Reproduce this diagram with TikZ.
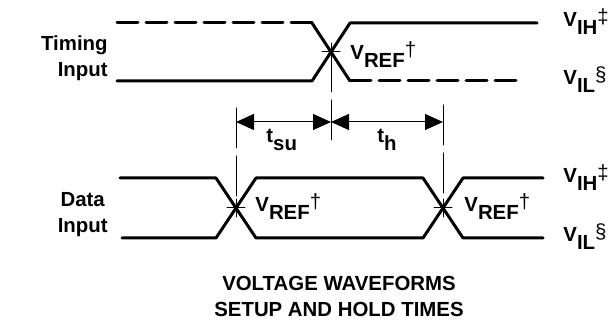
\documentclass[tikz,border=0pt]{standalone}
\usepackage{fontspec}
\setmainfont{Liberation Sans}
\usetikzlibrary{arrows.meta}
\newcommand{\sigl}[3]{#1\raisebox{-4pt}{#2}\raisebox{1.5pt}{\normalfont #3}}
\tikzset{
    wave/.style={line width=1.5pt},
    wavedash/.style={line width=1.5pt, dash pattern=on 10.5pt off 4pt},
    guide/.style={line width=0.5pt, dash pattern=on 20pt off 4pt},
    lbl/.style={anchor=base west, inner sep=0pt}
}
\begin{document}
\begin{tikzpicture}[x=0.5pt, y=-0.5pt, font=\bfseries\fontsize{10.2}{13}\selectfont, line join=round, line cap=round, >={Triangle[length=9pt,width=8pt]}]
    \useasboundingbox (0,0) rectangle (611,320);
    \path
    % timing input
    (117,23) coordinate (A)
    ++ (195,0) coordinate (B)
    ++ (38,58) coordinate (C)
    ++ (170,0) coordinate (D)
    (117,81) coordinate (E)
    ++ (195,0) coordinate (F)
    ++ (38,-58) coordinate (G)
    ++ (187,0) coordinate (H)
    (331,52) coordinate (X)
    (331,145) coordinate (X')
    % data input
    (120,178) coordinate (P)
    (216,178) coordinate (Q)
    (256,238) coordinate (R)
    (423,238) coordinate (S)
    (463,178) coordinate (U)
    (543,178) coordinate (V)
    (122,238) coordinate (P')
    (216,238) coordinate (Q')
    (256,178) coordinate (R')
    (423,178) coordinate (S')
    (463,238) coordinate (U')
    (543,238) coordinate (V')
    (236,208) coordinate (Y)
    (443,208) coordinate (Z)
    (236,108) coordinate (Y')
    (443,105) coordinate (Z')
    % arrow row
    (236,122) coordinate (M1)
    (331,122) coordinate (M2)
    (443,122) coordinate (M3)
    ;
    \draw[wavedash] (A)--(B);
    \draw[wave] (B)--(C);
    \draw[wavedash] (C)--(D);
    \draw[wave] (E)--(F)--(G)--(H);
    \draw[wave] (P)--(Q)--(R)--(S)--(U)--(V);
    \draw[wave] (P')--(Q')--(R')--(S')--(U')--(V');

    \draw[guide] (X)--(X');
    \draw[guide] (Y')--(Y);
    \draw[guide] (Z')--(Z);
    \foreach \c in {X,Y,Z}{
        \draw[line width=0.5pt] (\c) ++(-9,0) -- ++(18,0) (\c) ++(0,-9) -- ++(0,18);
    }
    \draw[<->, line width=0.5pt] (M1)--(M2);
    \draw[<->, line width=0.5pt] (M2)--(M3);

    \node[anchor=east, align=right, inner sep=0pt] (timing) at (108,58) {Timing\\Input};
    \node[anchor=east, align=center, inner sep=0pt] (data) at (108,215) {Data\\Input};
    \node[anchor=north, align=center, inner sep=0pt] (title) at (339,276) {VOLTAGE WAVEFORMS\\SETUP AND HOLD TIMES};

    \node[lbl] (vih1) at (563,27) {\sigl{V}{IH}{‡}};
    \node[lbl] (vil1) at (563,85) {\sigl{V}{IL}{§}};
    \node[lbl] (vih2) at (563,183) {\sigl{V}{IH}{‡}};
    \node[lbl] (vil2) at (563,242) {\sigl{V}{IL}{§}};
    \node[lbl] (vref1) at (350,60) {\sigl{V}{REF}{†}};
    \node[lbl] (vref2) at (255,212) {\sigl{V}{REF}{†}};
    \node[lbl] (vref3) at (464,212) {\sigl{V}{REF}{†}};
    \node[lbl] (tsu) at (266,143) {\sigl{t}{su}{}};
    \node[lbl] (th) at (377,143) {\sigl{t}{h}{}};
\end{tikzpicture}
\end{document}
